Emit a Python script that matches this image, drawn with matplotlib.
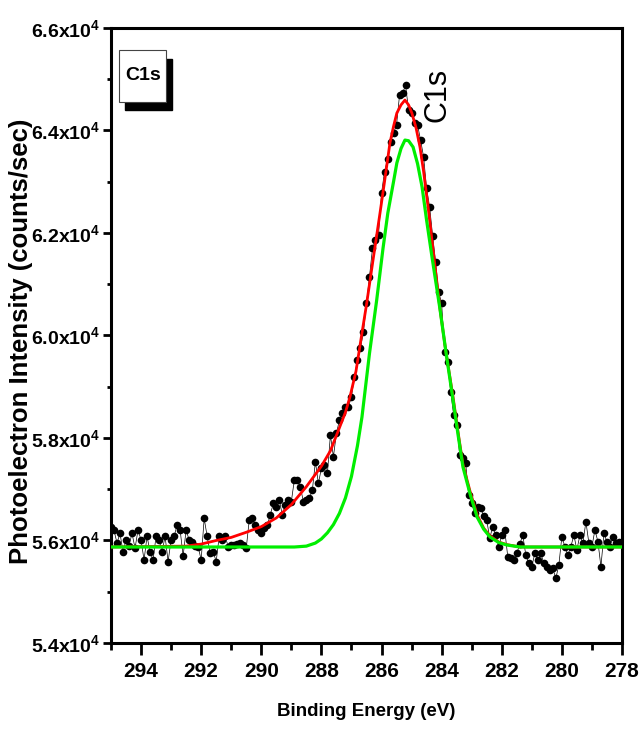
import numpy as np
import matplotlib
matplotlib.use("Agg")
import matplotlib.pyplot as plt
from matplotlib.patches import Rectangle
from matplotlib.ticker import FixedLocator, FixedFormatter

plt.rcParams['font.family'] = ['Liberation Sans', 'DejaVu Sans']
plt.rcParams['mathtext.default'] = 'regular'

# measured C1s spectrum, 0.1 eV steps from 295.0 down to 278.0 eV
energy = np.linspace(295.0, 278.0, 171)
counts = [
    56270, 56200, 55950, 56140, 55780, 56010, 55900, 56140, 55850, 56205,
    56010, 55620, 56080, 55780, 55620, 56080, 56010, 55780, 56080, 55590,
    56010, 56080, 56300, 56205, 55700, 56205, 56010, 55980, 55900, 55880,
    55620, 56430, 56080, 55750, 55780, 55590, 56080, 56000, 56080, 55880,
    55910, 55910, 55940, 55960, 55910, 55850, 56400, 56430, 56300, 56205,
    56150, 56250, 56300, 56500, 56725, 56650, 56790, 56500, 56700, 56790,
    56760, 57180, 57180, 57050, 56757, 56790, 56823, 56985, 57537, 57115,
    57408, 57473, 57310, 58058, 57635, 58090, 58350, 58480, 58610, 58610,
    58805, 59195, 59521, 59750, 60074, 60628, 61147, 61700, 61862, 61960,
    62774, 63195, 63437, 63780, 63950, 64106, 64691, 64724, 64886, 64399,
    64334, 64139, 64106, 63813, 63488, 62871, 62513, 61950, 61440, 60854,
    60628, 59683, 59488, 58903, 58448, 58253, 57668, 57603, 57506, 56887,
    56725, 56530, 56659, 56627, 56480, 56400, 56043, 56269, 56107, 55879,
    56107, 56205, 55684, 55652, 55619, 55749, 55930, 56107, 55717, 55554,
    55489, 55749, 55619, 55749, 55554, 55489, 55424, 55457, 55262, 55522,
    56074, 55880, 55717, 55880, 56107, 55814, 56107, 55945, 56367, 55945,
    55880, 56205, 55977, 55489, 56140, 55977, 55880, 56074, 55945, 55977,
    55960,
]

# envelope fit
fit_energy = [295.0, 292.5, 292.0, 291.5, 291.0, 290.5, 290.0, 289.5, 289.0,
              288.5, 288.0, 287.7, 287.4, 287.2, 287.05, 286.85, 286.65, 286.5,
              286.3, 286.05, 285.9, 285.72, 285.6, 285.49, 285.35, 285.22,
              285.1, 284.99, 284.85, 284.72, 284.6, 284.45, 284.25, 284.05,
              283.85, 283.62, 283.45, 283.29, 283.05, 282.82, 282.6, 282.39,
              282.1, 281.83, 281.39, 278.0]
fit_counts = [55873, 55890, 55930, 56000, 56060, 56160, 56270, 56440, 56700,
              57050, 57450, 57750, 58200, 58500, 58800, 59300, 60048, 60600,
              61400, 62389, 63000, 63755, 64080, 64340, 64500, 64594,
              64500, 64340, 64050, 63677, 63200, 62506, 61500, 60497,
              59650, 58800, 58100, 57480, 56950, 56500, 56240, 56090,
              55970, 55920, 55873, 55873]

# single C1s component
comp_energy = [295.0, 288.9, 288.5, 288.2, 288.0, 287.8, 287.6, 287.4, 287.2,
               287.0, 286.8, 286.65, 286.4, 286.16, 285.95, 285.79, 285.6,
               285.49, 285.35, 285.22, 285.1, 284.95, 284.8, 284.65, 284.5,
               284.32, 284.05, 283.85, 283.62, 283.45, 283.29, 283.05, 282.82,
               282.6, 282.39, 282.1, 281.83, 281.39, 278.0]
comp_counts = [55873, 55873, 55890, 55950, 56030, 56150, 56310, 56530, 56830,
               57250, 57850, 58409, 59650, 60692, 61700, 62389, 63000,
               63365, 63650, 63813, 63800, 63677, 63350, 62897, 62250,
               61531, 60497, 59650, 58741, 58050, 57434, 56900, 56458,
               56220, 56068, 55960, 55912, 55873, 55873]

x_ticks = [294, 292, 290, 288, 286, 284, 282, 280, 278]
x_minor = [295, 293, 291, 289, 287, 285, 283, 281, 279]
y_ticks = [54000, 56000, 58000, 60000, 62000, 64000, 66000]
y_minor = [55000, 57000, 59000, 61000, 63000, 65000]
y_tick_labels = ['5.4x10$^4$', '5.6x10$^4$', '5.8x10$^4$', '6.0x10$^4$',
                 '6.2x10$^4$', '6.4x10$^4$', '6.6x10$^4$']

fig = plt.figure(figsize=(6.43, 7.31), dpi=100)
ax = fig.add_axes([0.1726, 0.1204, 0.7947, 0.8413])

ax.plot(energy, counts, color='black', linewidth=0.5, marker='o',
        markersize=5.5, markeredgewidth=0, zorder=2)
ax.plot(fit_energy, fit_counts, color='#ff0000', linewidth=2.0, zorder=3)
ax.plot(comp_energy, comp_counts, color='#00ee00', linewidth=2.3, zorder=4)

ax.set_xlim(295.0, 278.0)
ax.set_ylim(54000, 66000)

ax.xaxis.set_major_locator(FixedLocator(x_ticks))
ax.xaxis.set_minor_locator(FixedLocator(x_minor))
ax.yaxis.set_major_locator(FixedLocator(y_ticks))
ax.yaxis.set_minor_locator(FixedLocator(y_minor))
ax.yaxis.set_major_formatter(FixedFormatter(y_tick_labels))

for side in ax.spines.values():
    side.set_linewidth(2.2)
ax.tick_params(axis='x', which='major', direction='out', length=8.5, width=2,
               labelsize=15, pad=5)
ax.tick_params(axis='x', which='minor', direction='out', length=5, width=2)
ax.tick_params(axis='y', which='major', direction='out', length=5.5, width=2,
               labelsize=14, pad=2)
ax.tick_params(axis='y', which='minor', direction='out', length=3, width=2)
for lab in ax.get_xticklabels() + ax.get_yticklabels():
    lab.set_fontweight('bold')

ax.set_xlabel('Binding Energy (eV)', fontsize=13.5, fontweight='bold')
ax.xaxis.set_label_coords(0.5, -0.0976)
ax.set_ylabel('Photoelectron Intensity (counts/sec)', fontsize=18.5,
              fontweight='bold')
ax.yaxis.set_label_coords(-0.153, 0.49)

# tag box with drop shadow
ax.add_patch(Rectangle((0.0275, 0.867), 0.092, 0.083, transform=ax.transAxes,
                       facecolor='black', edgecolor='black', zorder=5))
ax.add_patch(Rectangle((0.0157, 0.880), 0.092, 0.084, transform=ax.transAxes,
                       facecolor='white', edgecolor='#444444', linewidth=0.8,
                       zorder=6))
ax.text(0.062, 0.922, 'C1s', transform=ax.transAxes, ha='center', va='center',
        fontsize=14, fontweight='bold', zorder=7)

ax.text(0.639, 0.891, 'C1s', transform=ax.transAxes, ha='center', va='center',
        rotation=90, fontsize=22, zorder=7)

fig.savefig('out.png', dpi=100)
